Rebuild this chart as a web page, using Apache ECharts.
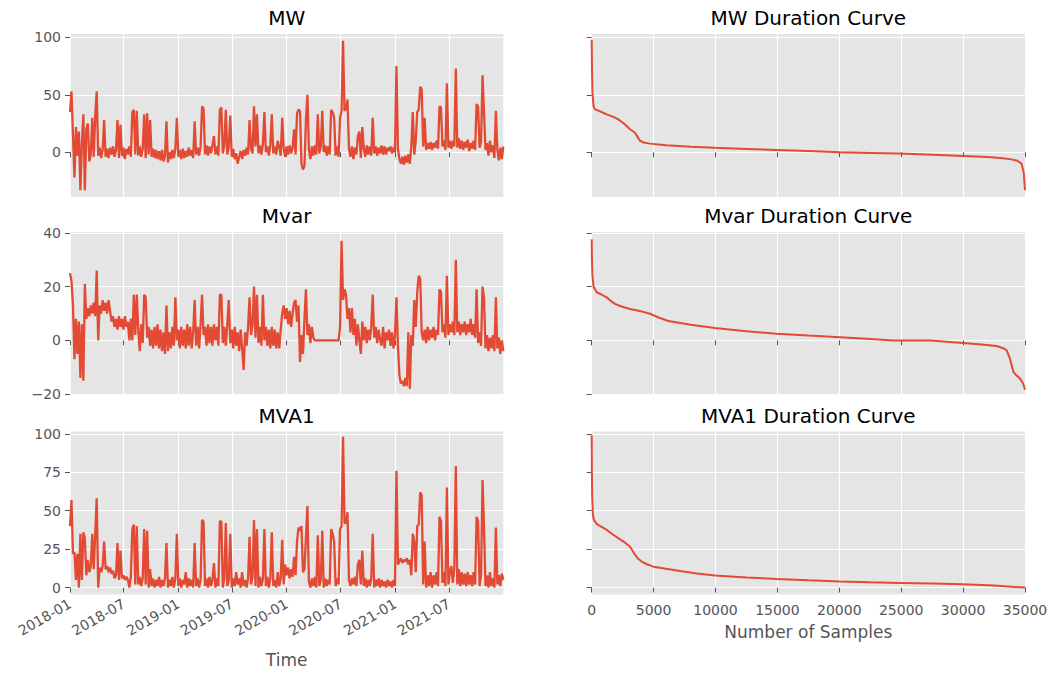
<!DOCTYPE html>
<html>
<head>
<meta charset="utf-8">
<title>MW / Mvar / MVA1</title>
<script src="https://cdn.jsdelivr.net/npm/echarts@6/dist/echarts.min.js"></script>
<style>
  html, body { margin: 0; padding: 0; background: #ffffff; }
  #chart { width: 1052px; height: 674px; }
</style>
</head>
<body>
<div id="chart"></div>
<script>
// ---- time series: one reading every 5 days from 2018-01-01 ----
const seriesStart = '2018-01-01';
const stepDays = 5;
const seriesEnd = '2021-12-31';

const mw = [
  35, 53, 15, -22, 22, -3, 18, -33, 8, 33,
  -33, 20, 25, -8, -2, 30, -4, 32, 53, -3,
  4, -5, 2, 28, -4, 3, -5, 4, -2, 5,
  -4, 2, 28, -5, 24, -3, 4, -6, 3, -2,
  5, -4, 35, 37, -2, 36, -3, 5, -4, 3,
  33, -5, 34, -2, 28, -4, 3, -5, 2, -6,
  1, -7, 2, -8, -3, 27, -9, 0, -6, 2,
  -5, 3, 30, -4, 2, -6, 3, -5, 1, -4,
  4, -3, 2, -5, 27, -2, 4, -3, 5, 40,
  38, -2, 6, -3, 5, -1, 6, 14, -2, 5,
  -3, 37, 39, -1, 6, 37, -2, 5, 32, -4,
  3, -6, -1, -10, -4, 1, -6, 2, -3, 4,
  -2, 28, 3, -1, 40, 5, 33, -1, 6, -2,
  7, 35, 0, 5, -3, 6, 33, -1, 5, -2,
  10, 4, -3, 30, 3, -4, 5, -2, 6, -1,
  4, 20, -2, 34, 37, 36, -10, -15, -12, 28,
  50, 2, -6, 5, -3, 6, -2, 33, -1, 5,
  36, 0, 6, -3, 5, -2, 37, 35, 30, -3,
  5, -4, 30, 36, 97, 36, 38, 46, 3, -4,
  5, -6, 4, -2, 14, 18, -5, 22, 3, -4,
  6, -2, 5, -3, 30, -1, 5, -3, 4, -1,
  6, -2, 5, -2, 4, 1, 5, -1, 4, 0,
  75, 3, -6, -10, -4, -11, -3, -9, -2, -10,
  5, 35, -2, 10, 35, 37, 57, 55, 5, 30,
  2, 8, 3, 9, 2, 8, 4, 10, 3, 40,
  39, 5, 10, 2, 60, 4, 10, 3, 10, 5,
  73, 4, 12, 3, 10, 2, 9, 4, 11, 1,
  8, 3, 10, 2, 42, 40, 4, 9, 67, 35,
  2, 8, -3, 10, 0, 6, -5, 36, 2, -7,
  4, -6, 5
];

const mvar = [
  25, 22, 13, -7, 8, -5, 7, -14, 6, -15,
  21, 8, 12, 9, 13, 10, 14, 9, 26, 0,
  13, 10, 15, 11, 14, 10, 15, 11, 7, 9,
  5, 8, 4, 9, 5, 8, 4, 9, 5, 7,
  0, 8, 0, 17, 2, 17, 4, -4, 6, -1,
  17, 16, 1, 5, -2, 4, -3, 5, -2, 6,
  -3, 4, -4, 3, -5, 13, -4, 3, -3, 5,
  -2, 16, 0, 4, -3, 5, -2, 4, -3, 6,
  -2, 5, -3, 3, 15, -2, 5, -3, 6, 17,
  2, 5, -2, 6, -1, 5, -2, 6, 0, 5,
  -2, 17, 17, -1, 5, -2, 6, 15, -1, 4,
  -3, 5, -2, 3, -4, 4, -3, -11, 3, -2,
  5, 16, 2, 6, 20, 1, 17, -1, 5, -2,
  17, 0, 5, -2, 4, -3, 5, -2, 4, -3,
  3, -3, 4, 10, 13, 8, 12, 6, 11, 5,
  10, 14, 15, 7, 13, -8, 2, -5, 8, 19,
  2, 6, -1, 5, 1, 0, 0, 0, 0, 0,
  0, 0, 0, 0, 0, 0, 0, 0, 0, 0,
  0, 0, 5, 37, 15, 19, 17, 8, 12, 3,
  12, 2, 8, -2, 6, 0, -5, 7, 0, 5,
  -1, 4, 0, 5, 17, 1, 5, -1, 4, 0,
  -2, 5, -3, 3, 0, 4, -2, 3, -3, 2,
  16, -2, -13, -16, -15, -17, -14, -17, 3, -18,
  2, -2, 15, 5, 18, 24, 23, 3, 0, 4,
  -1, 5, 0, 4, 1, 5, 0, 4, 2, 19,
  18, 3, 6, 1, 24, 2, 6, 3, 7, 2,
  30, 3, 7, 2, 6, 3, 7, 2, 6, 3,
  8, 2, 6, 1, 19, -1, 3, -2, 20, 16,
  -3, 2, -4, 1, -3, 2, -4, 16, -3, 1,
  -5, 0, -4
];

const mva1 = [
  40, 57, 22, 23, 5, 22, 0, 35, 5, 36,
  32, 8, 18, 10, 14, 35, 12, 35, 58, 0,
  13, 10, 14, 30, 12, 14, 10, 13, 9, 11,
  6, 8, 29, 5, 24, 6, 8, 5, 7, 5,
  0, 7, 38, 41, 2, 40, 2, 7, 1, 6,
  38, 2, 37, 0, 12, 1, 6, 0, 5, 1,
  7, 0, 5, 1, 6, 29, 0, 5, 1, 7,
  0, 6, 35, 1, 6, 0, 5, 2, 10, 0,
  6, 1, 5, 0, 29, 1, 6, 0, 5, 44,
  43, 1, 6, 0, 7, 1, 5, 16, 0, 6,
  1, 43, 43, 0, 6, 42, 1, 5, 35, 0,
  6, 1, 10, 2, 6, 0, 10, 1, 5, 0,
  6, 33, 2, 7, 44, 1, 38, 0, 7, 1,
  6, 38, 1, 7, 0, 6, 36, 1, 5, 0,
  10, 1, 6, 31, 2, 15, 8, 13, 6, 12,
  7, 20, 8, 30, 39, 37, 40, 10, 12, 33,
  53, 4, 0, 6, 1, 7, 0, 34, 1, 5,
  37, 0, 6, 1, 5, 2, 38, 35, 30, 1,
  6, 2, 38, 40, 98, 42, 42, 49, 5, 1,
  6, 2, 7, 1, 15, 18, 2, 24, 1, 6,
  0, 5, 1, 6, 35, 0, 5, 1, 6, 0,
  5, 1, 4, 0, 5, 1, 4, 0, 5, 1,
  76, 15, 17, 19, 16, 18, 17, 19, 15, 18,
  8, 35, 30, 10, 40, 41, 62, 60, 2, 30,
  0, 8, 1, 10, 0, 8, 2, 10, 1, 46,
  43, 3, 10, 1, 65, 2, 10, 14, 3, 13,
  79, 2, 12, 1, 10, 2, 9, 1, 10, 2,
  8, 1, 10, 2, 46, 43, 1, 8, 70, 39,
  1, 8, 0, 10, 1, 6, 0, 39, 2, 8,
  1, 9, 5
];

const timeTickLabels = ['2018-01', '2018-07', '2019-01', '2019-07', '2020-01', '2020-07', '2021-01', '2021-07'];

// ---- duration curves: readings sorted high to low, by sample rank ----
const mwDurSamples = [0, 20, 60, 150, 270, 700, 1210, 1700, 2150, 2600, 3095, 3500, 3750, 3900, 4200, 4710, 6000, 8000, 9960, 12500, 14940, 17500, 20055, 22500, 24900, 27500, 30010, 32000, 33000, 33800, 34400, 34725, 34900, 35000];
const mwDurValues  = [98, 75, 52, 40, 37.3, 35.5, 33, 31, 28.6, 25, 20, 17, 12.5, 10, 8.5, 7.5, 6, 4.8, 3.8, 2.9, 2, 1, 0, -0.6, -1.2, -2.2, -3.2, -4.2, -5, -6, -7.5, -10, -18, -33];

const mvarDurSamples = [0, 20, 60, 150, 400, 800, 1210, 1600, 1880, 2400, 3095, 4000, 4710, 5400, 6190, 8000, 9960, 12500, 14940, 17500, 20055, 22200, 24360, 27340, 30010, 31500, 32700, 33300, 33520, 33800, 34060, 34300, 34600, 34850, 35000];
const mvarDurValues  = [37.6, 30, 24, 20, 17.9, 17, 16, 14.5, 13.6, 12.6, 11.7, 10.8, 9.9, 8.5, 7.2, 5.8, 4.6, 3.4, 2.5, 1.8, 1.2, 0.6, 0, 0, -1, -1.5, -2.1, -3, -3.7, -7, -11.7, -13, -14.2, -16, -18.3];

const mva1DurSamples = [0, 15, 40, 100, 180, 400, 1210, 1700, 2290, 2700, 3095, 3300, 3500, 3750, 4040, 4500, 4980, 6000, 7130, 8500, 9960, 12500, 14940, 17500, 20055, 22500, 24900, 27500, 30010, 32500, 35000];
const mva1DurValues  = [99, 75, 59, 47, 44, 41.4, 37.5, 34.5, 31.4, 29.2, 26.6, 24, 21.2, 18.8, 16.9, 15, 13.6, 12.2, 10.8, 9.2, 7.8, 6.6, 5.6, 4.7, 3.9, 3.4, 3, 2.6, 2.2, 1.3, 0];

const panelTitles = ['MW', 'Mvar', 'MVA1'];
const durationTitles = ['MW Duration Curve', 'Mvar Duration Curve', 'MVA1 Duration Curve'];
const yTicks = [[0, 50, 100], [-20, 0, 20, 40], [0, 25, 50, 75, 100]];
const yRanges = [[-39, 103], [-20.3, 40.3], [-4.5, 101.5]];

// ---- layout & style ----
const FONT = 'DejaVu Sans';
const LINE_COLOR = '#E24A33';
const PANEL_BG = '#E5E5E5';
const TICK_COLOR = '#555555';
const LEFT_X = 70, RIGHT_X = 591.7, PLOT_W = 433.3, PLOT_H = 163;
const ROW_TOPS = [34, 232, 431.5];

function utc(s) {
  const p = s.split('-').map(Number);
  return Date.UTC(p[0], p[1] - 1, p[2] || 1);
}
const t0 = utc(seriesStart);
const tEnd = utc(seriesEnd);
const DAY = 86400000;
const timeTicks = timeTickLabels.map(utc);
function fmtMonth(v) {
  const d = new Date(v);
  const m = d.getUTCMonth() + 1;
  return d.getUTCFullYear() + '-' + (m < 10 ? '0' + m : m);
}
// plain numbers, typographic minus sign
function fmtNum(v) {
  return String(v).replace('-', '\u2212');
}

const timeSeries = [mw, mvar, mva1];
const durSeries = [[mwDurSamples, mwDurValues], [mvarDurSamples, mvarDurValues], [mva1DurSamples, mva1DurValues]];

const grids = [], xAxes = [], yAxes = [], series = [], graphics = [];

const tickStyle = { show: true, length: 5, lineStyle: { color: TICK_COLOR, width: 1 } };
const labelStyle = { color: TICK_COLOR, fontSize: 14, fontFamily: FONT };
const splitStyle = { show: true, lineStyle: { color: '#ffffff', width: 1.1 } };

for (let r = 0; r < 3; r++) {
  const bottom = r === 2;
  // left: time series
  grids.push({ left: LEFT_X, top: ROW_TOPS[r], width: PLOT_W, height: PLOT_H, show: true,
    backgroundColor: PANEL_BG, borderWidth: 0, containLabel: false, outerBoundsMode: 'none' });
  // right: duration curve
  grids.push({ left: RIGHT_X, top: ROW_TOPS[r], width: PLOT_W, height: PLOT_H, show: true,
    backgroundColor: PANEL_BG, borderWidth: 0, containLabel: false, outerBoundsMode: 'none' });

  const gl = r * 2, gr = r * 2 + 1;

  // time is carried as epoch milliseconds on a value axis, ticks at month starts
  xAxes.push({
    type: 'value', gridIndex: gl, min: t0, max: tEnd,
    axisLine: { show: false },
    axisTick: Object.assign({ customValues: timeTicks }, tickStyle),
    axisLabel: Object.assign({ show: bottom, customValues: timeTicks, rotate: 30, margin: 8,
      formatter: fmtMonth }, labelStyle),
    splitLine: splitStyle,
    name: bottom ? 'Time' : '', nameLocation: 'middle', nameGap: 57,
    nameTextStyle: { color: TICK_COLOR, fontSize: 17, fontFamily: FONT }
  });
  xAxes.push({
    type: 'value', gridIndex: gr, min: 0, max: 35000, interval: 5000,
    axisLine: { show: false },
    axisTick: tickStyle,
    axisLabel: Object.assign({ show: bottom, margin: 8, formatter: fmtNum }, labelStyle),
    splitLine: splitStyle,
    name: bottom ? 'Number of Samples' : '', nameLocation: 'middle', nameGap: 29,
    nameTextStyle: { color: TICK_COLOR, fontSize: 17, fontFamily: FONT }
  });

  [gl, gr].forEach(function (g, k) {
    yAxes.push({
      type: 'value', gridIndex: g, min: yRanges[r][0], max: yRanges[r][1],
      axisLine: { show: false },
      axisTick: Object.assign({ customValues: yTicks[r] }, tickStyle),
      axisLabel: Object.assign({ show: k === 0, customValues: yTicks[r], margin: 9,
        formatter: fmtNum }, labelStyle),
      splitLine: splitStyle
    });
  });

  series.push({
    type: 'line', xAxisIndex: gl, yAxisIndex: gl, showSymbol: false, animation: false,
    lineStyle: { color: LINE_COLOR, width: 2.3 }, itemStyle: { color: LINE_COLOR },
    data: timeSeries[r].map(function (v, i) { return [t0 + i * stepDays * DAY, v]; })
  });
  series.push({
    type: 'line', xAxisIndex: gr, yAxisIndex: gr, showSymbol: false, animation: false,
    lineStyle: { color: LINE_COLOR, width: 2 }, itemStyle: { color: LINE_COLOR },
    data: durSeries[r][0].map(function (x, i) { return [x, durSeries[r][1][i]]; })
  });

  const titleY = ROW_TOPS[r] - 16;
  graphics.push({ type: 'text', x: LEFT_X + PLOT_W / 2, y: titleY,
    style: { text: panelTitles[r], fill: '#000', font: '20px "' + FONT + '"', align: 'center', verticalAlign: 'middle' } });
  graphics.push({ type: 'text', x: RIGHT_X + PLOT_W / 2, y: titleY,
    style: { text: durationTitles[r], fill: '#000', font: '20px "' + FONT + '"', align: 'center', verticalAlign: 'middle' } });
}

const chart = echarts.init(document.getElementById('chart'), null, { renderer: 'svg' });
chart.setOption({
  backgroundColor: '#ffffff',
  animation: false,
  grid: grids,
  xAxis: xAxes,
  yAxis: yAxes,
  series: series,
  graphic: graphics
});
</script>
</body>
</html>
